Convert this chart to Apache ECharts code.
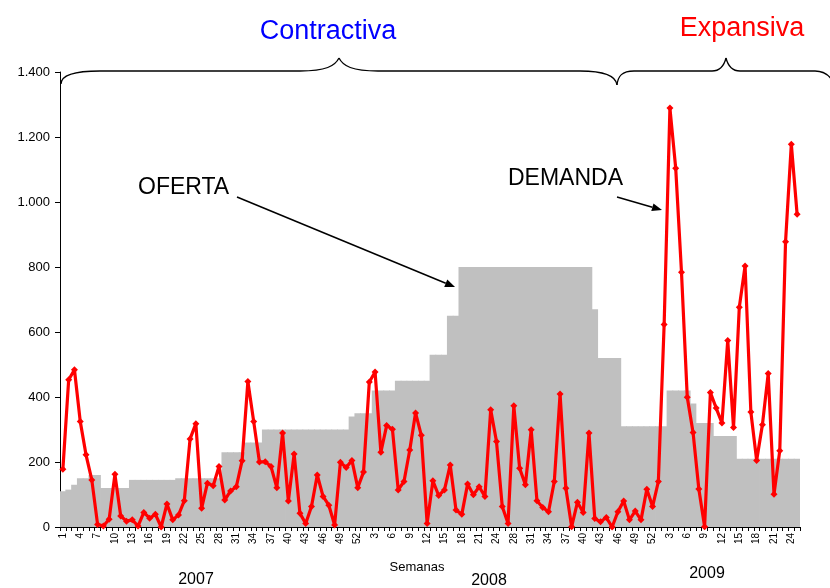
<!DOCTYPE html>
<html>
<head>
<meta charset="utf-8">
<script src="https://cdn.jsdelivr.net/npm/echarts@6/dist/echarts.min.js"></script>
<style>
  html, body { margin: 0; padding: 0; background: #ffffff; }
  #chart { width: 830px; height: 588px; }
</style>
</head>
<body>
<div id="chart"></div>
<script>
// semanas (2008 sin la semana 25)
let weeks2007 = [1, 2, 3, 4, 5, 6, 7, 8, 9, 10, 11, 12, 13, 14, 15, 16, 17, 18, 19, 20, 21, 22, 23, 24, 25, 26,
  27, 28, 29, 30, 31, 32, 33, 34, 35, 36, 37, 38, 39, 40, 41, 42, 43, 44, 45, 46, 47, 48, 49, 50, 51, 52];
let weeks2008 = [1, 2, 3, 4, 5, 6, 7, 8, 9, 10, 11, 12, 13, 14, 15, 16, 17, 18, 19, 20, 21, 22, 23, 24,
  26, 27, 28, 29, 30, 31, 32, 33, 34, 35, 36, 37, 38, 39, 40, 41, 42, 43, 44, 45, 46, 47, 48, 49, 50, 51, 52];
let weeks2009 = [1, 2, 3, 4, 5, 6, 7, 8, 9, 10, 11, 12, 13, 14, 15, 16, 17, 18, 19, 20, 21, 22, 23, 24, 25];

// OFERTA (area gris)
let oferta2007 = [110, 115, 130, 150, 150, 160, 160, 120, 120, 120, 120, 120, 145, 145, 145, 145, 145, 145, 145, 145,
  150, 150, 150, 150, 150, 150, 150, 150, 230, 230, 230, 230, 260, 260, 260, 300, 300, 300, 300, 300,
  300, 300, 300, 300, 300, 300, 300, 300, 300, 300, 340, 350];
let oferta2008 = [350, 350, 420, 420, 420, 420, 450, 450, 450, 450, 450, 450, 530, 530, 530, 650, 650,
  800, 800, 800, 800, 800, 800, 800, 800, 800, 800, 800, 800, 800, 800, 800, 800, 800, 800, 800, 800, 800, 800, 800,
  670, 520, 520, 520, 520, 310, 310, 310, 310, 310, 310];
let oferta2009 = [310, 310, 420, 420, 420, 420, 380, 320, 320, 320, 280, 280, 280, 280,
  210, 210, 210, 210, 210, 210, 210, 210, 210, 210, 210];

// DEMANDA (linea roja)
let demanda2007 = [178, 453, 484, 325, 222, 145, 8, 3, 24, 162, 34, 18, 22, 3, 45, 27, 39, 0, 71, 22,
  37, 81, 271, 318, 58, 135, 127, 186, 83, 111, 124, 204, 448, 325, 200, 201, 186, 121, 289, 80,
  225, 42, 11, 63, 160, 94, 67, 6, 199, 183, 205, 121];
let demanda2008 = [169, 446, 477, 230, 312, 301, 114, 140, 237, 351, 282, 11, 142, 97, 114, 191, 52, 39,
  132, 99, 124, 94, 361, 263, 63, 11, 373, 181, 130, 299, 81, 60, 47, 140, 409, 119, 1, 76, 45, 289,
  26, 16, 29, 0, 47, 80, 22, 49, 22, 116, 63];
let demanda2009 = [140, 623, 1289, 1104, 784, 399, 291, 117, 1, 414, 366, 320, 574, 306, 676, 803,
  354, 205, 315, 472, 101, 235, 878, 1178, 962];

let yTicks = [0, 200, 400, 600, 800, 1000, 1200, 1400];

let weeks = weeks2007.concat(weeks2008, weeks2009);
let oferta = oferta2007.concat(oferta2008, oferta2009);
let demanda = demanda2007.concat(demanda2008, demanda2009);

const FONT = 'Arial, "Liberation Sans", sans-serif';

function arrow(x1, y1, x2, y2) {
  let dx = x2 - x1, dy = y2 - y1;
  let len = Math.sqrt(dx * dx + dy * dy);
  let ux = dx / len, uy = dy / len;
  let bx = x2 - ux * 10, by = y2 - uy * 10;
  return [
    { type: 'line', shape: { x1: x1, y1: y1, x2: bx, y2: by }, style: { stroke: '#000', lineWidth: 1.5 } },
    { type: 'polygon', shape: { points: [[x2, y2], [bx - uy * 4, by + ux * 4], [bx + uy * 4, by - ux * 4]] },
      style: { fill: '#000' } }
  ];
}

// llaves: cada tramo [x1, y1, cpx1, cpy1, cpx2, cpy2, x2, y2]
let braceSegs = [
  [61, 84, 61, 75, 74, 71, 100, 71],
  [100, 71, 160, 71, 240, 71, 300, 71],
  [300, 71, 326, 71, 335, 66, 339, 58],
  [339, 58, 343, 66, 352, 71, 378, 71],
  [378, 71, 440, 71, 520, 71, 580, 71],
  [580, 71, 606, 71, 616, 76, 617, 85],
  [617, 85, 618, 76, 622, 71, 634, 71],
  [634, 71, 660, 71, 690, 71, 712, 71],
  [712, 71, 720, 71, 724, 66, 726, 58],
  [726, 58, 728, 66, 732, 71, 740, 71],
  [740, 71, 765, 71, 790, 71, 815, 71],
  [815, 71, 822, 71, 828, 74, 832, 80]
];
let braces = braceSegs.map(function (s) {
  return {
    type: 'bezierCurve',
    shape: { x1: s[0], y1: s[1], cpx1: s[2], cpy1: s[3], cpx2: s[4], cpy2: s[5], x2: s[6], y2: s[7] },
    style: { stroke: '#000', lineWidth: 1.3, fill: null }
  };
});

let chart = echarts.init(document.getElementById('chart'));
let option = {
  animation: false,
  textStyle: { fontFamily: FONT },
  grid: { left: 60, right: 30, top: 72, bottom: 61 },
  xAxis: {
    type: 'category',
    data: weeks,
    axisLine: { lineStyle: { color: '#000', width: 1 } },
    axisTick: { show: true, interval: 0, length: 4, lineStyle: { color: '#000' } },
    axisLabel: { interval: 2, rotate: 90, fontSize: 10, color: '#000', margin: 6, fontFamily: FONT },
    splitLine: { show: false }
  },
  yAxis: {
    type: 'value',
    min: yTicks[0],
    max: yTicks[yTicks.length - 1],
    interval: 200,
    axisLine: { show: true, lineStyle: { color: '#000', width: 1 } },
    axisTick: { show: true, length: 5, lineStyle: { color: '#000' } },
    axisLabel: {
      fontSize: 13, color: '#000', margin: 10, fontFamily: FONT,
      formatter: function (v) { return String(v).replace(/\B(?=(\d{3})+(?!\d))/g, '.'); }
    },
    splitLine: { show: false }
  },
  series: [
    {
      name: 'OFERTA',
      type: 'bar',
      data: oferta,
      barWidth: 6.6,
      itemStyle: { color: '#c0c0c0' },
      z: 1
    },
    {
      name: 'DEMANDA',
      type: 'line',
      data: demanda,
      symbol: 'diamond',
      symbolSize: 7,
      showAllSymbol: true,
      lineStyle: { color: '#ff0000', width: 3.2 },
      itemStyle: { color: '#ff0000' },
      z: 3
    }
  ],
  graphic: braces.concat(
    [
      { type: 'text', style: { text: 'Contractiva', x: 328, y: 32, font: '27px ' + FONT, fill: '#0000ff', textAlign: 'center', textVerticalAlign: 'middle' } },
      { type: 'text', style: { text: 'Expansiva', x: 742, y: 29, font: '27px ' + FONT, fill: '#ff0000', textAlign: 'center', textVerticalAlign: 'middle' } },
      { type: 'text', style: { text: 'OFERTA', x: 138, y: 188, font: '23px ' + FONT, fill: '#000', textAlign: 'left', textVerticalAlign: 'middle' } },
      { type: 'text', style: { text: 'DEMANDA', x: 508, y: 179, font: '23px ' + FONT, fill: '#000', textAlign: 'left', textVerticalAlign: 'middle' } },
      { type: 'text', style: { text: 'Semanas', x: 417, y: 567, font: '13px ' + FONT, fill: '#000', textAlign: 'center', textVerticalAlign: 'middle' } },
      { type: 'text', style: { text: '2007', x: 196, y: 580, font: '16px ' + FONT, fill: '#000', textAlign: 'center', textVerticalAlign: 'middle' } },
      { type: 'text', style: { text: '2008', x: 489, y: 581, font: '16px ' + FONT, fill: '#000', textAlign: 'center', textVerticalAlign: 'middle' } },
      { type: 'text', style: { text: '2009', x: 707, y: 574, font: '16px ' + FONT, fill: '#000', textAlign: 'center', textVerticalAlign: 'middle' } }
    ],
    arrow(237, 197, 455, 287),
    arrow(617, 197, 662, 210)
  )
};
chart.setOption(option);
</script>
</body>
</html>
